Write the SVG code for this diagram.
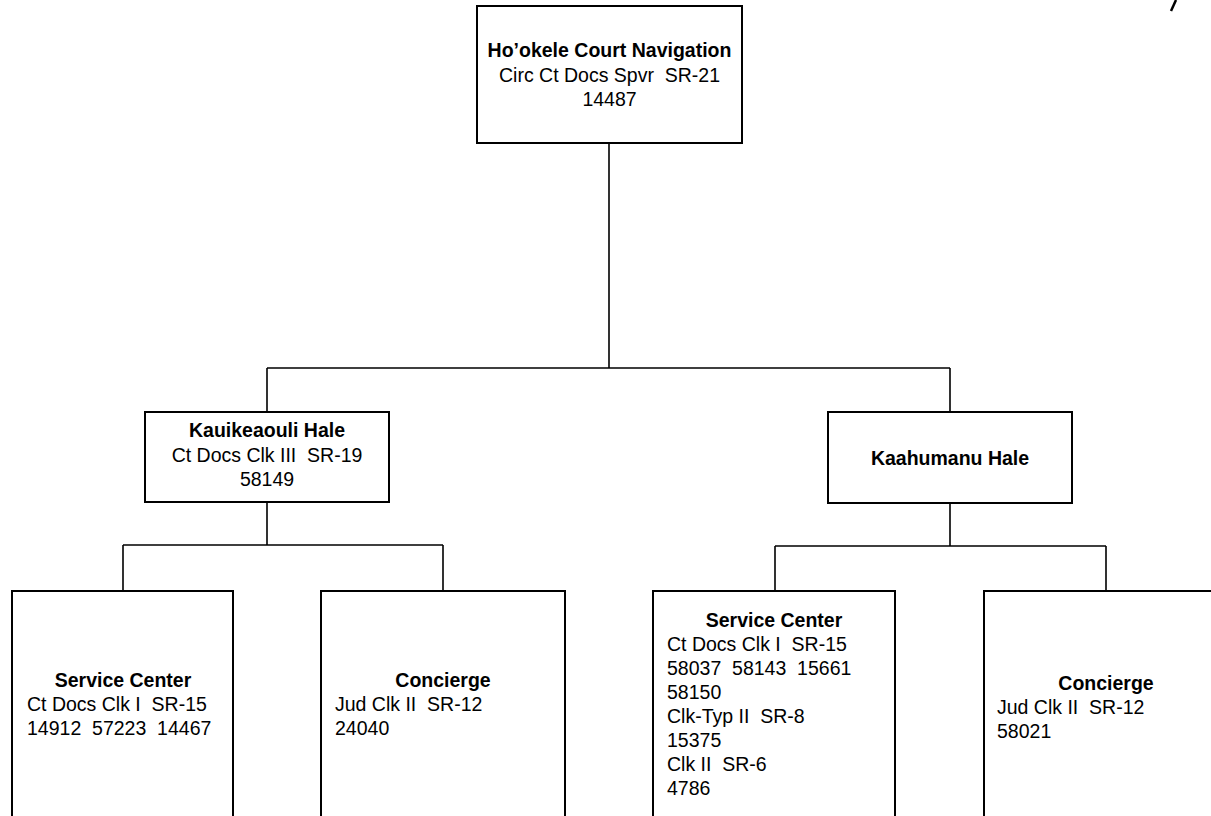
<svg xmlns="http://www.w3.org/2000/svg" width="1211" height="816" viewBox="0 0 1211 816" xml:space="preserve">
<style>
.box{fill:#fff;stroke:#000;stroke-width:2}
.ln{fill:none;stroke:#000;stroke-width:1.6}
text{font-family:"Liberation Sans",Arial,sans-serif;font-size:19.5px;fill:#000;white-space:pre}
.b{font-weight:bold}
.c{text-anchor:middle}
</style>
<rect width="1211" height="816" fill="#fff"/>
<g id="connectors">
<path class="ln" d="M609,143 V368 M267,368 H950 M267,368 V412 M950,368 V412"/>
<path class="ln" d="M267,502 V545 M123,545 H443 M123,545 V591 M443,545 V591"/>
<path class="ln" d="M950,503 V546 M775,546 H1106 M775,546 V591 M1106,546 V591"/>
</g>
<g id="n-hookele">
<rect class="box" x="477" y="6" width="265" height="137"/>
<text class="b c" x="609.5" y="57">Ho’okele Court Navigation</text>
<text class="c" x="609.5" y="82">Circ Ct Docs Spvr  SR-21</text>
<text class="c" x="609.5" y="106">14487</text>
</g>
<g id="n-kauikeaouli">
<rect class="box" x="145" y="412" width="244" height="90"/>
<text class="b c" x="267" y="437">Kauikeaouli Hale</text>
<text class="c" x="267" y="462">Ct Docs Clk III  SR-19</text>
<text class="c" x="267" y="486">58149</text>
</g>
<g id="n-kaahumanu">
<rect class="box" x="828" y="412" width="244" height="91"/>
<text class="b c" x="950" y="465">Kaahumanu Hale</text>
</g>
<g id="n-sc-left">
<rect class="box" x="12" y="591" width="221" height="240"/>
<text class="b c" x="123" y="687">Service Center</text>
<text x="27" y="711">Ct Docs Clk I  SR-15</text>
<text x="27" y="735">14912  57223  14467</text>
</g>
<g id="n-conc-left">
<rect class="box" x="321" y="591" width="244" height="240"/>
<text class="b c" x="443" y="687">Concierge</text>
<text x="335" y="711">Jud Clk II  SR-12</text>
<text x="335" y="735">24040</text>
</g>
<g id="n-sc-right">
<rect class="box" x="653" y="591" width="242" height="240"/>
<text class="b c" x="774" y="627">Service Center</text>
<text x="667" y="651">Ct Docs Clk I  SR-15</text>
<text x="667" y="675">58037  58143  15661</text>
<text x="667" y="699">58150</text>
<text x="667" y="723">Clk-Typ II  SR-8</text>
<text x="667" y="747">15375</text>
<text x="667" y="771">Clk II  SR-6</text>
<text x="667" y="795">4786</text>
</g>
<g id="n-conc-right">
<rect class="box" x="984" y="591" width="260" height="240"/>
<text class="b c" x="1106" y="690">Concierge</text>
<text x="997" y="714">Jud Clk II  SR-12</text>
<text x="997" y="738">58021</text>
</g>
<path d="M1176,0 L1171,11" stroke="#000" stroke-width="2.5" fill="none"/>
</svg>
